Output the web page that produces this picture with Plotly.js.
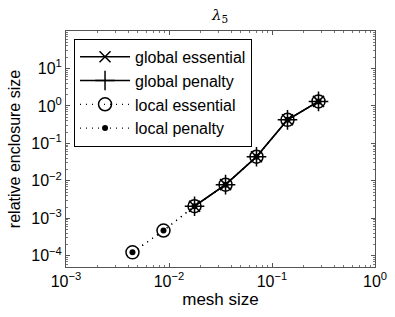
<!DOCTYPE html>
<html>
<head>
<meta charset="utf-8">
<script src="https://cdn.plot.ly/plotly-3.0.1.min.js"></script>
<style>html,body{margin:0;padding:0;background:#fff;}#chart{width:395px;height:317px;}</style>
</head>
<body>
<div id="chart"></div>
<script>
const meshGlobal = [0.0177, 0.0354, 0.0707, 0.1414, 0.2828];
const meshLocal = [0.00442, 0.00884, 0.0177, 0.0354, 0.0707, 0.1414, 0.2828];
const globalEssential = [0.0021, 0.0079, 0.044, 0.425, 1.32];
const globalPenalty = [0.0021, 0.0079, 0.044, 0.425, 1.32];
const localEssential = [0.000123, 0.00047, 0.0021, 0.0079, 0.044, 0.425, 1.32];
const localPenalty = [0.000123, 0.00047, 0.0021, 0.0079, 0.044, 0.425, 1.32];
const xTickVals = [0.001, 0.01, 0.1, 1];
const xTickText = ['10<sup>−3</sup>', '10<sup>−2</sup>', '10<sup>−1</sup>', '10<sup>0</sup>'];
const yTickVals = [1e-4, 1e-3, 1e-2, 1e-1, 1, 10];
const yTickText = ['10<sup>−4</sup>', '10<sup>−3</sup>', '10<sup>−2</sup>', '10<sup>−1</sup>', '10<sup>0</sup>', '10<sup>1</sup>'];

const font = 'Liberation Sans, Arial, sans-serif';
const traces = [
  {x: meshGlobal, y: globalEssential, name: 'global essential', mode: 'lines+markers',
   line: {color: '#000', width: 1.5, dash: 'solid'},
   marker: {symbol: 'x-thin-open', size: 11, color: '#000', line: {width: 1.5, color: '#000'}}},
  {x: meshGlobal, y: globalPenalty, name: 'global penalty', mode: 'lines+markers',
   line: {color: '#000', width: 1.5, dash: 'solid'},
   marker: {symbol: 'cross-thin-open', size: 14, color: '#000', line: {width: 1.5, color: '#000'}}},
  {x: meshLocal, y: localEssential, name: 'local essential', mode: 'lines+markers',
   line: {color: '#000', width: 1.3, dash: '1px,5px'},
   marker: {symbol: 'circle-open', size: 13, color: '#000', line: {width: 1.5, color: '#000'}}},
  {x: meshLocal, y: localPenalty, name: 'local penalty', mode: 'lines+markers',
   line: {color: '#000', width: 1.3, dash: '1px,5px'},
   marker: {symbol: 'circle', size: 6, color: '#000'}}
];

const axisCommon = {
  type: 'log', showgrid: false, zeroline: false, showline: true, linecolor: '#555', linewidth: 1,
  mirror: 'ticks', ticks: 'inside', ticklen: 4, tickcolor: '#555',
  tickfont: {family: font, size: 16, color: '#000'},
  minor: {ticks: 'inside', ticklen: 2, tickcolor: '#777', dtick: 'D1', showgrid: false}
};

const layout = {
  width: 395, height: 317,
  margin: {l: 66, r: 20, t: 31, b: 50},
  paper_bgcolor: '#fff', plot_bgcolor: '#fff',
  showlegend: true,
  title: {text: '<i>λ</i><sub>5</sub>', font: {family: 'DejaVu Serif, serif', size: 15, color: '#000'},
          x: 0.557, xanchor: 'center', y: 0.955, yanchor: 'middle'},
  xaxis: Object.assign({}, axisCommon, {range: [-3, 0], tickvals: xTickVals, ticktext: xTickText,
    title: {text: 'mesh size', font: {family: font, size: 17, color: '#000'}, standoff: 2}}),
  yaxis: Object.assign({}, axisCommon, {range: [Math.log10(5e-5), 2], tickvals: yTickVals, ticktext: yTickText,
    title: {text: 'relative enclosure size', font: {family: font, size: 16, color: '#000'}, standoff: 6}}),
  legend: {x: 0.026, y: 0.967, xanchor: 'left', yanchor: 'top', bgcolor: '#fff',
    bordercolor: '#000', borderwidth: 1, font: {family: font, size: 16, color: '#000'},
    tracegroupgap: 0, itemwidth: 50}
};

Plotly.newPlot('chart', traces, layout, {displayModeBar: false, staticPlot: true});
</script>
</body>
</html>
